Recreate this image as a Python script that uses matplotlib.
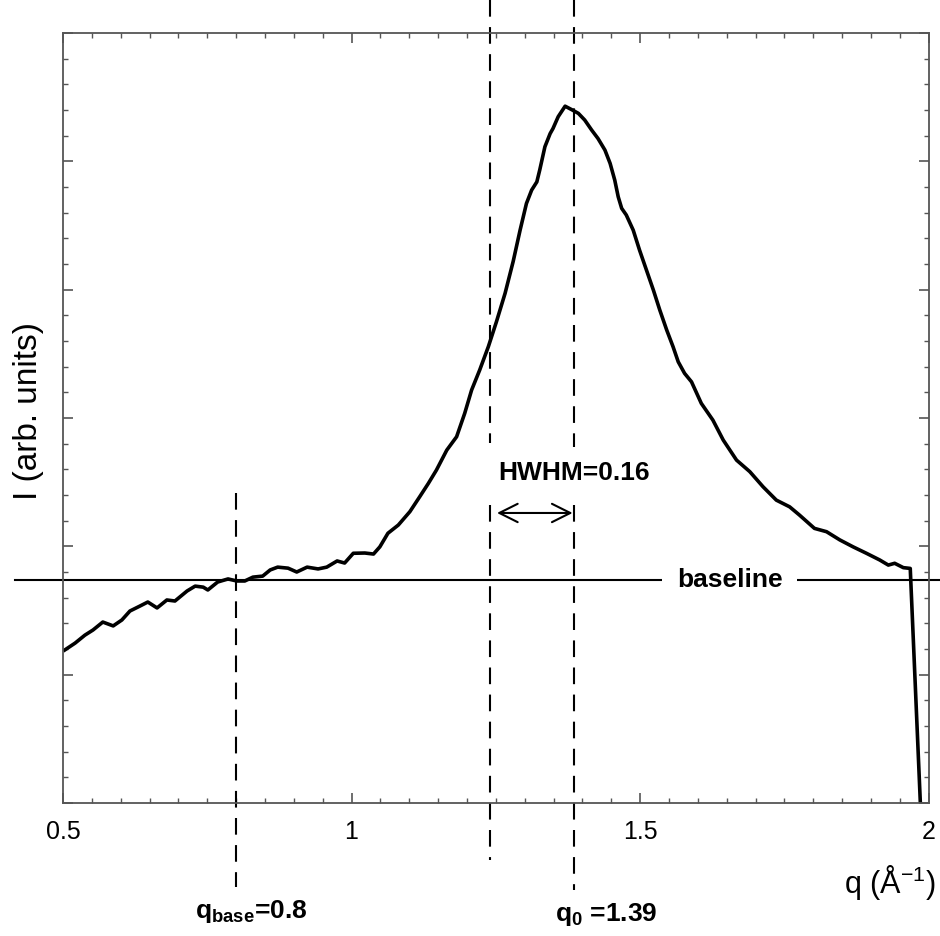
import numpy as np
import matplotlib
matplotlib.use("Agg")
import matplotlib.pyplot as plt
from matplotlib.ticker import MultipleLocator

plt.rcParams['font.family'] = ['Liberation Sans', 'DejaVu Sans']
plt.rcParams['mathtext.fontset'] = 'custom'
plt.rcParams['mathtext.rm'] = 'Liberation Sans'
plt.rcParams['mathtext.it'] = 'Liberation Sans:italic'
plt.rcParams['mathtext.bf'] = 'Liberation Sans:bold'

# -------- DATA --------
q = [0.503, 0.521, 0.538, 0.552, 0.569, 0.587, 0.602, 0.616, 0.633, 0.647,
     0.663, 0.680, 0.694, 0.715, 0.729, 0.743, 0.751, 0.768, 0.786, 0.801,
     0.815, 0.829, 0.846, 0.859, 0.872, 0.890, 0.905, 0.923, 0.942, 0.957,
     0.975, 0.988, 1.003, 1.023, 1.038, 1.049, 1.063, 1.081, 1.101, 1.118,
     1.133, 1.147, 1.165, 1.182, 1.196, 1.208, 1.222, 1.237, 1.251, 1.266,
     1.280, 1.292, 1.303, 1.312, 1.321, 1.326, 1.335, 1.344, 1.349, 1.358,
     1.370, 1.381, 1.393, 1.404, 1.416, 1.427, 1.439, 1.448, 1.456, 1.462,
     1.468, 1.476, 1.488, 1.499, 1.511, 1.523, 1.534, 1.546, 1.557, 1.566,
     1.577, 1.589, 1.606, 1.626, 1.644, 1.667, 1.690, 1.713, 1.736, 1.759,
     1.776, 1.802, 1.823, 1.846, 1.869, 1.892, 1.915, 1.930, 1.941, 1.956,
     1.968, 1.990]
intensity = [0.596, 0.623, 0.654, 0.674, 0.705, 0.690, 0.713, 0.748, 0.767, 0.783,
             0.760, 0.791, 0.787, 0.826, 0.845, 0.841, 0.830, 0.861, 0.873, 0.865,
             0.865, 0.880, 0.884, 0.908, 0.919, 0.915, 0.900, 0.919, 0.912, 0.919,
             0.943, 0.935, 0.973, 0.974, 0.970, 0.998, 1.051, 1.083, 1.135, 1.193,
             1.245, 1.297, 1.375, 1.427, 1.518, 1.609, 1.687, 1.778, 1.875, 1.986,
             2.110, 2.232, 2.336, 2.388, 2.420, 2.466, 2.557, 2.608, 2.628, 2.674,
             2.715, 2.702, 2.687, 2.661, 2.622, 2.589, 2.544, 2.492, 2.427, 2.362,
             2.317, 2.291, 2.232, 2.154, 2.076, 1.998, 1.921, 1.843, 1.778, 1.719,
             1.674, 1.641, 1.557, 1.492, 1.414, 1.336, 1.291, 1.232, 1.180, 1.154,
             1.122, 1.070, 1.057, 1.025, 0.998, 0.973, 0.947, 0.927, 0.934, 0.917,
             0.914, -0.235]

baseline = 0.869
q_base = 0.8
q_half = 1.24
q_peak = 1.385
hwhm = 0.16

# -------- PLOT --------
fig = plt.figure(figsize=(9.4, 9.36), dpi=100)
ax = fig.add_axes([0.067, 0.1421, 0.921, 0.8226])

ax.plot(q, intensity, color='black', lw=2.6, solid_joinstyle='round')

ax.set_xlim(0.5, 2)
ax.set_ylim(0, 3)

# baseline (runs past the frame on both sides)
ax.plot([0.417, 2.05], [baseline, baseline], color='black', lw=1.5, clip_on=False)
ax.text(1.655, baseline, 'baseline', fontsize=19, fontweight='bold',
        ha='center', va='center',
        bbox=dict(boxstyle='square,pad=0.55', fc='white', ec='none'))

dash = dict(color='black', lw=1.5, dashes=(8, 5), clip_on=False)
ax.plot([q_base, q_base], [1.208, -0.327], **dash)
ax.plot([q_half, q_half], [3.13, 1.402], **dash)
ax.plot([q_half, q_half], [1.161, -0.222], **dash)
ax.plot([q_peak, q_peak], [3.13, 1.387], **dash)
ax.plot([q_peak, q_peak], [1.161, -0.339], **dash)

ax.annotate('', xy=(q_half + 0.012, 1.13), xytext=(q_peak - 0.002, 1.13),
            arrowprops=dict(arrowstyle='<->,head_length=0.6,head_width=0.3',
                            color='black', lw=1.5,
                            mutation_scale=22, shrinkA=0, shrinkB=0))
ax.text(q_half + 0.015, 1.286, 'HWHM=%.2f' % hwhm, fontsize=19,
        fontweight='bold', ha='left', va='center')

ax.text(0.7287, -0.424, r'$\mathbf{q}_{\mathbf{base}}$=%.1f' % q_base, fontsize=19,
        fontweight='bold', ha='left', va='center', clip_on=False)
ax.text(1.352, -0.436, r'$\mathbf{q}_{\mathbf{0}}$ =1.39', fontsize=19,
        fontweight='bold', ha='left', va='center', clip_on=False)

# axes styling
ax.xaxis.set_major_locator(MultipleLocator(0.5))
ax.xaxis.set_minor_locator(MultipleLocator(0.05))
ax.yaxis.set_major_locator(MultipleLocator(0.5))
ax.yaxis.set_minor_locator(MultipleLocator(0.1))
ax.set_xticks([0.5, 1, 1.5, 2])
ax.set_xticklabels(['0.5', '1', '1.5', '2'])
ax.tick_params(which='both', direction='in', top=True, right=True,
               color='#555555', labelsize=18, labelleft=False)
ax.tick_params(which='major', length=7, width=1.2, pad=12)
ax.tick_params(which='minor', length=3.5, width=1.0)
for s in ax.spines.values():
    s.set_color('#555555')
    s.set_linewidth(1.3)

ax.set_ylabel('I (arb. units)', fontsize=24, labelpad=14, y=0.509)
fig.text(0.996, 1 - 882 / 936, r'q (Å$^{-1}$)', fontsize=22, ha='right', va='center')

fig.savefig('out.png', dpi=100)
